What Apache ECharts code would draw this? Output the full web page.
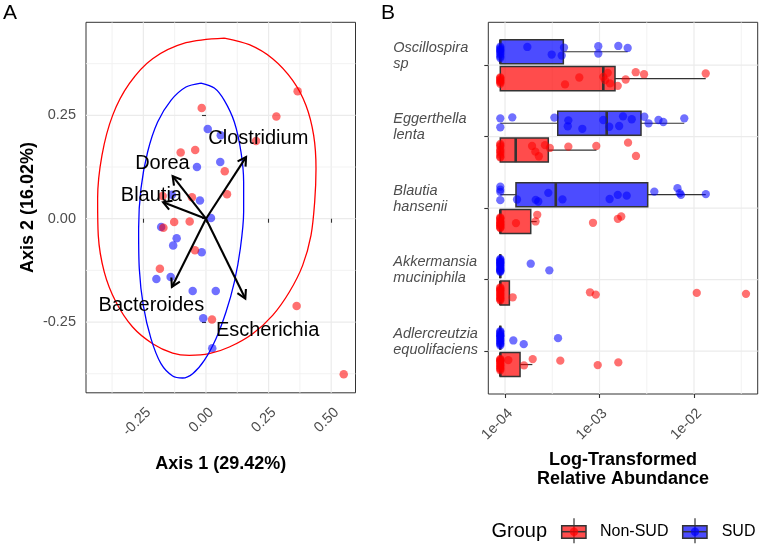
<!DOCTYPE html>
<html><head><meta charset="utf-8">
<script src="https://cdn.jsdelivr.net/npm/echarts@6/dist/echarts.min.js"></script>
<style>html,body{margin:0;padding:0;background:#fff}#c{width:761px;height:547px}</style>
</head><body><div id="c"></div>
<script>
// ---------------- Panel A: PCoA ----------------
const pcoaNonSUD = [[0.366,0.308],[0.281,0.247],[-0.017,0.268],[0.200,0.188],[-0.101,0.160],[-0.043,0.166],[0.075,0.115],[0.084,0.059],[-0.056,0.052],[-0.173,0.055],[-0.127,-0.008],[-0.065,-0.007],[-0.170,-0.022],[-0.044,-0.076],[-0.184,-0.121],[0.362,-0.211],[0.024,-0.244],[0.550,-0.376]];
const pcoaSUD = [[0.007,0.217],[0.059,0.202],[-0.036,0.125],[0.057,0.137],[-0.136,0.058],[-0.024,0.044],[0.020,0.002],[-0.179,-0.020],[-0.117,-0.047],[-0.131,-0.065],[-0.017,-0.081],[-0.198,-0.146],[-0.141,-0.141],[-0.053,-0.175],[0.039,-0.175],[-0.011,-0.241],[0.025,-0.313]];
const ellipseNonSUD = [[0.0732,0.4369],[-0.0799,0.4256],[-0.2130,0.3869],[-0.3062,0.3265],[-0.3727,0.2499],[-0.4153,0.1532],[-0.4326,0.0484],[-0.4300,-0.0403],[-0.4060,-0.1290],[-0.3594,-0.2015],[-0.2929,-0.2620],[-0.2130,-0.3023],[-0.1331,-0.3249],[-0.0666,-0.3304],[0.0133,-0.3264],[0.0932,-0.3103],[0.1864,-0.2780],[0.2662,-0.2337],[0.3328,-0.1773],[0.3860,-0.1128],[0.4193,-0.0403],[0.4340,0.0403],[0.4393,0.1210],[0.4300,0.2015],[0.3994,0.2740],[0.3461,0.3345],[0.2662,0.3869],[0.1731,0.4208],[0.0732,0.4369]];
const ellipseSUD = [[-0.0200,0.3280],[-0.0799,0.3184],[-0.1398,0.2862],[-0.1930,0.2338],[-0.2330,0.1613],[-0.2596,0.0726],[-0.2689,-0.0242],[-0.2662,-0.1209],[-0.2503,-0.2095],[-0.2196,-0.2901],[-0.1797,-0.3506],[-0.1331,-0.3804],[-0.0932,-0.3852],[-0.0532,-0.3748],[-0.0067,-0.3425],[0.0399,-0.2901],[0.0799,-0.2257],[0.1132,-0.1531],[0.1371,-0.0726],[0.1504,0.0162],[0.1504,0.0887],[0.1398,0.1613],[0.1132,0.2338],[0.0732,0.2862],[0.0333,0.3160],[-0.0200,0.3280]];
const arrowNames = ['Clostridium','Dorea','Blautia','Bacteroides','Escherichia'];
const arrowStart = [0,0];
const arrowEnds = [[0.160,0.149],[-0.133,0.103],[-0.171,0.040],[-0.136,-0.165],[0.157,-0.193]];
const arrowLabelPos = [[0.209,0.193],[-0.174,0.133],[-0.218,0.055],[-0.218,-0.209],[0.246,-0.270]];
const aTicksX = [-0.25,0,0.25,0.5];
const aTickLabelsX = ['-0.25','0.00','0.25','0.50'];
const aTicksY = [-0.25,0,0.25];
const aTickLabelsY = ['-0.25','0.00','0.25'];
const aMinorX = [-0.375,-0.125,0.125,0.375];
const aMinorY = [-0.375,-0.125,0.125,0.375];

// ---------------- Panel B: abundance (log10 values) ----------------
const taxa = ['Oscillospira\nsp','Eggerthella\nlenta','Blautia\nhansenii','Akkermansia\nmuciniphila','Adlercreutzia\nequolifaciens'];
const bTicks = [-4,-3,-2];
const bTickLabels = ['1e-04','1e-03','1e-02'];
const bMinor = [-3.5,-2.5,-1.5];
// [taxon, lowerWhisker, Q1, median, Q3, upperWhisker]
const boxSUD = [[1,-4.05,-4.05,-4.05,-3.383,-2.702],[2,-4.05,-3.442,-2.924,-2.561,-2.103],[3,-4.05,-3.884,-3.463,-2.490,-1.876],[4,-4.05,-4.05,-4.05,-4.05,-4.05],[5,-4.05,-4.05,-4.05,-4.05,-4.05]];
const boxNonSUD = [[1,-4.05,-4.05,-2.960,-2.836,-1.876],[2,-4.05,-4.05,-3.887,-3.542,-3.032],[3,-4.05,-4.05,-4.05,-3.728,-3.665],[4,-4.05,-4.05,-4.05,-3.954,-3.954],[5,-4.05,-4.05,-4.05,-3.841,-3.711]];
// jittered points: [log10 abundance, vertical position]
const ptsSUD = [
 [-3.764,0.745],[-3.506,0.851],[-3.400,0.865],[-3.376,0.753],[-3.013,0.735],[-3.013,0.837],[-2.801,0.731],[-2.702,0.759],
 [-4.05,0.74],[-4.05,0.78],[-4.05,0.81],[-4.05,0.76],[-4.05,0.85],[-4.05,0.88],[-4.05,0.90],[-4.05,0.83],[-4.05,0.79],
 [-4.05,1.744],[-4.05,1.869],[-3.923,1.730],[-3.478,1.733],[-3.330,1.772],[-3.336,1.855],[-3.182,1.890],[-2.960,1.767],[-2.897,1.861],[-2.792,1.851],[-2.751,1.716],[-2.659,1.756],[-2.526,1.721],[-2.481,1.813],[-2.376,1.767],[-2.325,1.795],[-2.103,1.744],
 [-4.05,2.698],[-4.05,2.772],[-4.05,2.888],[-4.05,2.74],[-3.873,2.879],[-3.675,2.884],[-3.648,2.907],[-3.542,2.786],[-3.392,2.877],[-2.893,2.872],[-2.807,2.814],[-2.712,2.825],[-2.420,2.768],[-2.175,2.720],[-2.151,2.790],[-2.138,2.814],[-1.875,2.803],
 [-3.728,3.777],[-3.531,3.870],[-4.05,3.71],[-4.05,3.72],[-4.05,3.74],[-4.05,3.75],[-4.05,3.77],[-4.05,3.78],[-4.05,3.80],[-4.05,3.81],[-4.05,3.83],[-4.05,3.84],[-4.05,3.86],[-4.05,3.87],[-4.05,3.88],[-4.05,3.89],[-4.05,3.76],
 [-3.912,4.851],[-3.802,4.903],[-3.439,4.819],[-4.05,4.72],[-4.05,4.73],[-4.05,4.75],[-4.05,4.77],[-4.05,4.79],[-4.05,4.80],[-4.05,4.82],[-4.05,4.84],[-4.05,4.85],[-4.05,4.87],[-4.05,4.89],[-4.05,4.90],[-4.05,4.92],[-4.05,4.78]
];
const ptsNonSUD = [
 [-3.365,1.269],[-3.214,1.172],[-2.960,1.163],[-2.913,1.107],[-2.942,1.209],[-2.889,1.255],[-2.807,1.289],[-2.723,1.200],[-2.617,1.098],[-2.529,1.126],[-1.876,1.116],
 [-4.05,1.18],[-4.05,1.21],[-4.05,1.24],[-4.05,1.26],[-4.05,1.20],[-4.05,1.23],[-4.05,1.17],
 [-3.714,2.130],[-3.679,2.210],[-3.642,2.274],[-3.577,2.119],[-3.526,2.158],[-3.330,2.140],[-3.034,2.130],[-2.698,2.084],[-2.614,2.270],
 [-4.05,2.10],[-4.05,2.14],[-4.05,2.18],[-4.05,2.22],[-4.05,2.25],[-4.05,2.28],[-4.05,2.12],[-4.05,2.20],[-4.05,2.29],
 [-3.884,3.209],[-3.659,3.093],[-3.677,3.186],[-3.069,3.205],[-2.806,3.149],[-2.770,3.117],
 [-4.05,3.13],[-4.05,3.15],[-4.05,3.18],[-4.05,3.20],[-4.05,3.22],[-4.05,3.24],[-4.05,3.26],[-4.05,3.28],[-4.05,3.14],[-4.05,3.19],[-4.05,3.23],[-4.05,3.27],
 [-3.919,4.247],[-3.101,4.177],[-3.040,4.209],[-1.971,4.186],[-1.450,4.199],
 [-4.05,4.11],[-4.05,4.12],[-4.05,4.14],[-4.05,4.16],[-4.05,4.18],[-4.05,4.20],[-4.05,4.21],[-4.05,4.23],[-4.05,4.25],[-4.05,4.26],[-4.05,4.28],[-4.05,4.29],[-4.05,4.15],
 [-3.965,5.126],[-3.799,5.200],[-3.707,5.112],[-3.415,5.134],[-3.019,5.196],[-2.801,5.158],
 [-4.05,5.11],[-4.05,5.12],[-4.05,5.14],[-4.05,5.15],[-4.05,5.17],[-4.05,5.19],[-4.05,5.20],[-4.05,5.22],[-4.05,5.24],[-4.05,5.25],[-4.05,5.27],[-4.05,5.13]
];
const bCatTicks = [1,2,3,4,5];

// ---------------- styles ----------------
const FF = '"Liberation Sans", Arial, Helvetica, sans-serif';
const RED_PT = 'rgba(255,0,0,0.7)', BLUE_PT = 'rgba(0,0,255,0.7)';
const RED_BOX = 'rgba(255,0,0,0.7)', BLUE_BOX = 'rgba(0,0,255,0.7)';
const GRID_MAJOR = '#EBEBEB', GRID_MINOR = '#F1F1F1';
const BOX_HALF = 0.168, DODGE = 0.188;

function lookup(ticks, labels){ return function(v){ for(let i=0;i<ticks.length;i++){ if(Math.abs(ticks[i]-v)<1e-9) return labels[i]; } return ''; }; }

function gridLines(dir, color, width){
  return function(params, api){
    const v = api.value(0), cs = params.coordSys;
    if(dir==='x'){
      const x = api.coord([v, 0])[0];
      return {type:'line', shape:{x1:x,y1:cs.y,x2:x,y2:cs.y+cs.height}, style:{stroke:color,lineWidth:width}, silent:true};
    } else {
      const y = api.coord([0, v])[1];
      return {type:'line', shape:{x1:cs.x,y1:y,x2:cs.x+cs.width,y2:y}, style:{stroke:color,lineWidth:width}, silent:true};
    }
  };
}
function gridSeries(idx, dir, values, color, width){
  return {type:'custom', xAxisIndex:idx, yAxisIndex:idx, z:0, silent:true, renderItem:gridLines(dir,color,width),
    data: values.map(v=>[v]), encode: dir==='x'?{x:0}:{y:0}, animation:false};
}
function boxRenderer(offset, fill){
  return function(params, api){
    const c = api.value(0) + offset;
    const lo=api.value(1), q1=api.value(2), md=api.value(3), q3=api.value(4), hi=api.value(5);
    const yc = api.coord([lo, c])[1];
    const ya = api.coord([lo, c-BOX_HALF])[1], yb = api.coord([lo, c+BOX_HALF])[1];
    const y0 = Math.min(ya,yb), y1 = Math.max(ya,yb);
    const xlo=api.coord([lo,c])[0], xq1=api.coord([q1,c])[0], xmd=api.coord([md,c])[0], xq3=api.coord([q3,c])[0], xhi=api.coord([hi,c])[0];
    return {type:'group', children:[
      {type:'line', shape:{x1:xlo,y1:yc,x2:xq1,y2:yc}, style:{stroke:'#333333',lineWidth:1.2}},
      {type:'line', shape:{x1:xq3,y1:yc,x2:xhi,y2:yc}, style:{stroke:'#333333',lineWidth:1.2}},
      {type:'rect', shape:{x:xq1,y:y0,width:xq3-xq1,height:y1-y0}, style:{fill:fill,stroke:'#333333',lineWidth:1.5}},
      {type:'line', shape:{x1:xmd,y1:y0,x2:xmd,y2:y1}, style:{stroke:'#333333',lineWidth:2.6}}
    ]};
  };
}

const series = [
  gridSeries(0,'x',aTicksX,GRID_MAJOR,1.2),
  gridSeries(0,'x',aMinorX,GRID_MINOR,0.9),
  gridSeries(0,'y',aTicksY,GRID_MAJOR,1.2),
  gridSeries(0,'y',aMinorY,GRID_MINOR,0.9),
  gridSeries(1,'x',bTicks,GRID_MAJOR,1.2),
  gridSeries(1,'x',bMinor,GRID_MINOR,0.9),
  gridSeries(1,'y',bCatTicks,GRID_MAJOR,1.2),
  {name:'SUD', type:'scatter', xAxisIndex:0, yAxisIndex:0, z:3, data:pcoaSUD, symbolSize:8.5, itemStyle:{color:BLUE_PT}},
  {name:'Non-SUD', type:'scatter', xAxisIndex:0, yAxisIndex:0, z:3, data:pcoaNonSUD, symbolSize:8.5, itemStyle:{color:RED_PT}},
  {type:'line', xAxisIndex:0, yAxisIndex:0, z:4, data:ellipseNonSUD, smooth:0.3, showSymbol:false, symbol:'none', lineStyle:{color:'#FF0000',width:1.3}},
  {type:'line', xAxisIndex:0, yAxisIndex:0, z:4, data:ellipseSUD, smooth:0.3, showSymbol:false, symbol:'none', lineStyle:{color:'#0000FF',width:1.3}},
  {type:'custom', xAxisIndex:0, yAxisIndex:0, z:5, data:arrowEnds.map(e=>[arrowStart[0],arrowStart[1],e[0],e[1]]), encode:{x:[0,2],y:[1,3]},
    renderItem:function(params, api){
      const p0 = api.coord([api.value(0), api.value(1)]);
      const p1 = api.coord([api.value(2), api.value(3)]);
      const ang = Math.atan2(p1[1]-p0[1], p1[0]-p0[0]);
      const L = 9.5, a = Math.PI/6;
      const h1 = [p1[0]-L*Math.cos(ang-a), p1[1]-L*Math.sin(ang-a)];
      const h2 = [p1[0]-L*Math.cos(ang+a), p1[1]-L*Math.sin(ang+a)];
      return {type:'group', children:[
        {type:'line', shape:{x1:p0[0],y1:p0[1],x2:p1[0],y2:p1[1]}, style:{stroke:'#000',lineWidth:2.1}},
        {type:'polyline', shape:{points:[h1,p1,h2]}, style:{stroke:'#000',lineWidth:2.1,fill:'none'}}
      ]};
    }},
  {type:'custom', xAxisIndex:0, yAxisIndex:0, z:6, data:arrowLabelPos, encode:{x:0,y:1},
    renderItem:function(params, api){
      const p = api.coord([api.value(0), api.value(1)]);
      return {type:'text', x:p[0], y:p[1], style:{text:arrowNames[params.dataIndex], fill:'#000', fontSize:20, fontFamily:FF, align:'center', verticalAlign:'middle'}};
    }},
  {name:'SUD', type:'custom', xAxisIndex:1, yAxisIndex:1, z:3, data:boxSUD, encode:{x:[1,2,3,4,5], y:0}, renderItem:boxRenderer(-DODGE, BLUE_BOX)},
  {name:'Non-SUD', type:'custom', xAxisIndex:1, yAxisIndex:1, z:3, data:boxNonSUD, encode:{x:[1,2,3,4,5], y:0}, renderItem:boxRenderer(DODGE, RED_BOX)},
  {name:'SUD', type:'scatter', xAxisIndex:1, yAxisIndex:1, z:4, data:ptsSUD, symbolSize:8.3, itemStyle:{color:BLUE_PT}},
  {name:'Non-SUD', type:'scatter', xAxisIndex:1, yAxisIndex:1, z:4, data:ptsNonSUD, symbolSize:8.3, itemStyle:{color:RED_PT}}
];

const tickCommon = {show:true, length:4, inside:false, lineStyle:{color:'#333333', width:1.1}};
const labelCommon = {color:'#4D4D4D', fontSize:14.5, fontFamily:FF};
const nameCommon = {color:'#000', fontSize:18, fontWeight:'bold', fontFamily:FF, verticalAlign:'middle', lineHeight:19.5};
const taxonLabel = function(v){ return lookup(bCatTicks,taxa)(v) + '\n{gap| }'; };

const option = {
  animation:false,
  backgroundColor:'#ffffff',
  grid:[
    {left:86, top:22.3, width:269.5, height:370.5, show:true, borderColor:'#333333', borderWidth:1, backgroundColor:'transparent', containLabel:false, outerBoundsMode:'none'},
    {left:488.3, top:22.3, width:269.4, height:371.7, show:true, borderColor:'#333333', borderWidth:1, backgroundColor:'transparent', containLabel:false, outerBoundsMode:'none'}
  ],
  xAxis:[
    {type:'value', gridIndex:0, min:-0.479, max:0.597, axisLine:{show:false}, splitLine:{show:false},
     axisTick:Object.assign({customValues:aTicksX}, tickCommon),
     axisLabel:Object.assign({customValues:aTicksX, formatter:lookup(aTicksX,aTickLabelsX), rotate:45, margin:12, verticalAlign:'top'}, labelCommon),
     name:'Axis 1 (29.42%)', nameLocation:'middle', nameGap:71.5, nameTextStyle:nameCommon},
    {type:'value', gridIndex:1, min:-4.177, max:-1.326, axisLine:{show:false}, splitLine:{show:false},
     axisTick:Object.assign({customValues:bTicks}, tickCommon),
     axisLabel:Object.assign({customValues:bTicks, formatter:lookup(bTicks,bTickLabels), rotate:45, margin:12, verticalAlign:'top'}, labelCommon),
     name:'Log-Transformed\nRelative Abundance', nameLocation:'middle', nameGap:64, nameTextStyle:nameCommon}
  ],
  yAxis:[
    {type:'value', gridIndex:0, min:-0.421, max:0.475, axisLine:{show:false}, splitLine:{show:false},
     axisTick:Object.assign({customValues:aTicksY}, tickCommon),
     axisLabel:Object.assign({customValues:aTicksY, formatter:lookup(aTicksY,aTickLabelsY), margin:10}, labelCommon),
     name:'Axis 2 (16.02%)', nameLocation:'middle', nameGap:57.5, nameTextStyle:nameCommon},
    {type:'value', gridIndex:1, min:0.4, max:5.6, inverse:true, axisLine:{show:false}, splitLine:{show:false},
     axisTick:Object.assign({customValues:bCatTicks}, tickCommon),
     axisLabel:Object.assign({customValues:bCatTicks, formatter:taxonLabel, align:'left', margin:95, fontStyle:'italic', lineHeight:16,
       rich:{gap:{lineHeight:19, fontSize:14.5}}}, labelCommon)}
  ],
  graphic:[
    {type:'text', left:3, top:3, style:{text:'A', fill:'#000', fontSize:21, fontFamily:FF}},
    {type:'text', left:381, top:3, style:{text:'B', fill:'#000', fontSize:21, fontFamily:FF}},
    {type:'text', x:491.5, y:531.5, style:{text:'Group', fill:'#000', fontSize:20, fontFamily:FF, verticalAlign:'middle', align:'left'}},
    {type:'line', shape:{x1:574,y1:518.3,x2:574,y2:543.3}, style:{stroke:'#333333',lineWidth:1.2}},
    {type:'rect', shape:{x:561.7,y:525.7,width:24.3,height:12.6}, style:{fill:RED_BOX,stroke:'#333333',lineWidth:1.5}},
    {type:'line', shape:{x1:561.7,y1:531.7,x2:586,y2:531.7}, style:{stroke:'#333333',lineWidth:1.5}},
    {type:'circle', shape:{cx:574,cy:531.7,r:4.2}, style:{fill:RED_PT}},
    {type:'text', x:600, y:531.5, style:{text:'Non-SUD', fill:'#000', fontSize:16, fontFamily:FF, verticalAlign:'middle', align:'left'}},
    {type:'line', shape:{x1:695,y1:518.3,x2:695,y2:543.3}, style:{stroke:'#333333',lineWidth:1.2}},
    {type:'rect', shape:{x:682.7,y:525.7,width:24.3,height:12.6}, style:{fill:BLUE_BOX,stroke:'#333333',lineWidth:1.5}},
    {type:'line', shape:{x1:682.7,y1:531.7,x2:707,y2:531.7}, style:{stroke:'#333333',lineWidth:1.5}},
    {type:'circle', shape:{cx:695,cy:531.7,r:4.2}, style:{fill:BLUE_PT}},
    {type:'text', x:721.7, y:531.5, style:{text:'SUD', fill:'#000', fontSize:16, fontFamily:FF, verticalAlign:'middle', align:'left'}}
  ],
  series:series
};
const chart = echarts.init(document.getElementById('c'), null, {renderer:'canvas', width:761, height:547});
chart.setOption(option);
</script>
</body></html>
